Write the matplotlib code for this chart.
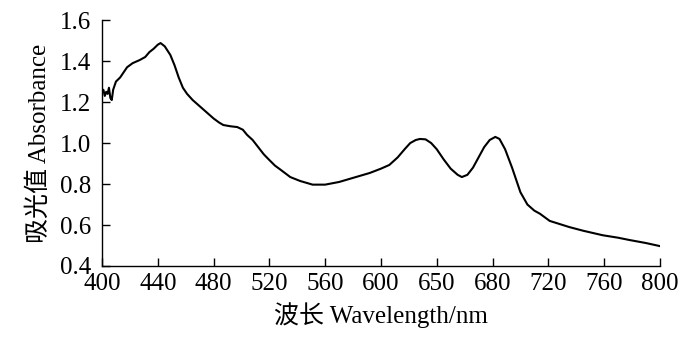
import matplotlib

matplotlib.use('Agg')
import matplotlib.pyplot as plt

plt.rcParams['font.family'] = ['Liberation Serif', 'Noto Sans CJK SC']
plt.rcParams['font.size'] = 18

# absorbance spectrum
wavelength = [400, 401, 402, 403, 404, 405, 406, 407, 408, 409, 410, 413, 416, 418,
              422, 427, 431, 434, 437, 440, 442, 445, 449, 452, 455, 458, 461, 465,
              470, 475, 480, 484, 487, 492, 497, 501, 504, 508, 512, 516, 520, 524,
              528, 535, 542, 551, 560, 570, 580, 592, 600, 606, 612, 617, 621, 625,
              628, 632, 636, 640, 645, 650, 655, 658, 662, 666, 670, 674, 678, 682,
              685, 689, 694, 700, 705, 710, 714, 721, 728, 735, 745, 759, 770, 778,
              790, 800]
absorbance = [1.25, 1.26, 1.23, 1.25, 1.24, 1.27, 1.22, 1.21, 1.26, 1.28, 1.30, 1.32, 1.35, 1.37,
              1.39, 1.405, 1.42, 1.444, 1.46, 1.48, 1.488, 1.472, 1.43, 1.38, 1.32, 1.27, 1.24, 1.21,
              1.18, 1.15, 1.12, 1.10, 1.088, 1.082, 1.078, 1.065, 1.04, 1.015, 0.98, 0.945, 0.917, 0.89,
              0.87, 0.834, 0.815, 0.797, 0.797, 0.81, 0.83, 0.854, 0.875, 0.893, 0.93, 0.97, 1.0, 1.015,
              1.02, 1.018, 1.0, 0.97, 0.92, 0.875, 0.845, 0.834, 0.845, 0.88, 0.93, 0.98, 1.015, 1.03,
              1.02, 0.97, 0.88, 0.76, 0.70, 0.67, 0.655, 0.62, 0.605, 0.59, 0.572, 0.55, 0.538, 0.527,
              0.512, 0.497]

xticks = [400, 440, 480, 520, 560, 600, 640, 680, 720, 760, 800]
xtick_labels = ['400', '440', '480', '520', '560', '600', '650', '680', '720', '760', '800']
yticks = [0.4, 0.6, 0.8, 1.0, 1.2, 1.4, 1.6]

fig = plt.figure(figsize=(7, 3.41), dpi=100)
ax = fig.add_axes([0.1457, 0.22, 0.797, 0.721])

ax.plot(wavelength, absorbance, color='black', linewidth=1.5)

ax.set_xlim(400, 800)
ax.set_ylim(0.4, 1.6)
ax.set_xticks(xticks)
ax.set_xticklabels(xtick_labels)
ax.set_yticks(yticks)
ax.set_yticklabels([f'{v:.1f}' for v in yticks])

ax.spines['top'].set_visible(False)
ax.spines['right'].set_visible(False)
ax.spines['left'].set_linewidth(1.0)
ax.spines['bottom'].set_linewidth(1.0)
ax.tick_params(direction='in', length=6, width=1.0)
ax.tick_params(axis='x', pad=5)
ax.tick_params(axis='y', pad=8)

ax.set_xlabel('波长 Wavelength/nm', labelpad=5)
ax.set_ylabel('吸光值 Absorbance', labelpad=6)

fig.savefig('out.png', dpi=100)
